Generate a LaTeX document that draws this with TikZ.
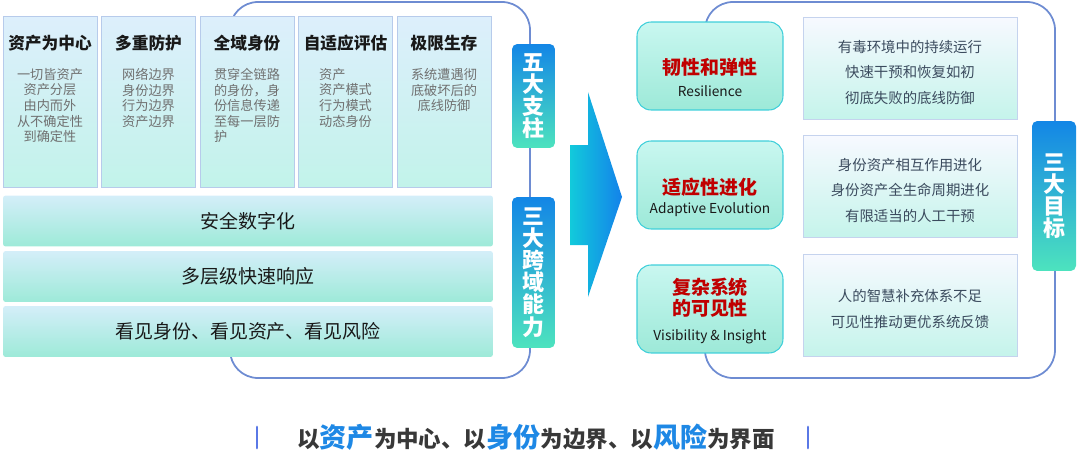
\documentclass[tikz,border=0pt]{standalone}
\usepackage{fontspec}
\setmainfont{Noto Sans CJK SC}
\usepackage{xcolor}
\usepackage{tikz}
\usetikzlibrary{positioning}

\definecolor{framecol}{HTML}{6E8CD2}
\definecolor{pillartop}{HTML}{DDEFFC}
\definecolor{pillarbot}{HTML}{C2F3EA}
\definecolor{pillarline}{HTML}{B7CBEB}
\definecolor{bodygray}{HTML}{707070}
\definecolor{bandtop}{HTML}{D4EEF9}
\definecolor{bandbot}{HTML}{9DEAD8}
\definecolor{labtop}{HTML}{1386E6}
\definecolor{labbot}{HTML}{4DE3BE}
\definecolor{arrleft}{HTML}{12CADB}
\definecolor{arrright}{HTML}{1382EA}
\definecolor{goaltop}{HTML}{C9F7F0}
\definecolor{goalbot}{HTML}{9DE9D8}
\definecolor{goalline}{HTML}{3FCFDA}
\definecolor{goalred}{HTML}{C00000}
\definecolor{desctop}{HTML}{F7F9FF}
\definecolor{descbot}{HTML}{C5F4EB}
\definecolor{descline}{HTML}{C5D3EE}
\definecolor{desctext}{HTML}{3B4B5E}
\definecolor{hiblue}{HTML}{1E88E5}
\definecolor{barblue}{HTML}{5A78E6}

\newcommand\hlword[1]{{\fontsize{15.4}{16}\selectfont\color{hiblue}#1}}

\tikzset{
  frame/.style={draw=framecol, line width=1pt, rounded corners=0.56cm}, % Rahmen
  pillar/.style={draw=pillarline, line width=.5pt, top color=pillartop, bottom color=pillarbot,
    minimum width=1.88cm, minimum height=3.42cm, inner sep=0pt},
  ptitle/.style={font=\fontsize{9.5}{11}\selectfont\bfseries, text=black!90},
  pbody/.style={font=\fontsize{7.5}{8.85}\selectfont, text=bodygray, inner sep=0pt, anchor=north},
  band/.style={top color=bandtop, bottom color=bandbot, rounded corners=1.5pt,
    minimum width=9.8cm, minimum height=1.02cm, font=\fontsize{10.8}{12}\selectfont, text=black!90},
  vlabel/.style={top color=labtop, bottom color=labbot, rounded corners=3pt, minimum width=0.86cm,
    align=center, text=white, font=\fontsize{12.5}{12.6}\selectfont\bfseries, inner sep=0pt},
  goal/.style={draw=goalline, line width=.6pt, top color=goaltop, bottom color=goalbot,
    rounded corners=0.28cm, minimum width=2.92cm, minimum height=1.76cm},
  gtitle/.style={font=\fontsize{10.8}{12}\selectfont\bfseries, text=goalred, align=center},
  gsub/.style={font=\fontsize{7.8}{9}\selectfont, text=black!90},
  desc/.style={draw=descline, line width=.5pt, top color=desctop, bottom color=descbot,
    minimum width=4.28cm, minimum height=2.04cm},
  dtext/.style={align=center, font=\fontsize{8.2}{14.5}\selectfont, text=desctext},
  bar/.style={draw=barblue, line width=1.7pt, line cap=round}
}

\begin{document}
\begin{tikzpicture}[x=0.02cm, y=-0.02cm, >=latex]
\useasboundingbox (0,0) rectangle (1080,470);

%Rahmen
\draw[frame] (230,40) -- (230,2) -- (530,2) -- (530,378) -- (230,378) -- (230,340);
\draw[frame] (705,40) -- (705,2) -- (1055,2) -- (1055,378) -- (705,378) -- (705,340);

%Pfeil
\shade[left color=arrleft, right color=arrright]
  (570,145) -- (588,145) -- (588,92) -- (622,197) -- (588,297) -- (588,245) -- (570,245) -- cycle;

%Saeulen
\node[pillar] (P1) at (50,101.5) {};
\node[pillar] (P2) at (148.5,101.5) {};
\node[pillar] (P3) at (247,101.5) {};
\node[pillar] (P4) at (345.5,101.5) {};
\node[pillar] (P5) at (444,101.5) {};

\node[ptitle] (T1) at (50,43) {资产为中心};
\node[ptitle] (T2) at (148.5,43) {多重防护};
\node[ptitle] (T3) at (247,43) {全域身份};
\node[ptitle] (T4) at (345.5,43) {自适应评估};
\node[ptitle] (T5) at (444,43) {极限生存};

\node[pbody, align=center] (B1) at (50,68) {一切皆资产\\资产分层\\由内而外\\从不确定性\\到确定性};
\node[pbody, align=center] (B2) at (148.5,68) {网络边界\\身份边界\\行为边界\\资产边界};
\node[pbody, align=left] (B3) at (247,68) {贯穿全链路\\的身份，身\\份信息传递\\至每一层防\\护};
\node[pbody, align=left] (B4) at (345.5,68) {资产\\资产模式\\行为模式\\动态身份};
\node[pbody, align=center] (B5) at (444,68) {系统遭遇彻\\底破坏后的\\底线防御};

%Querbalken
\node[band] (L1) at (248,221) {安全数字化};
\node[band] (L2) at (248,276.5) {多层级快速响应};
\node[band] (L3) at (248,331.5) {看见身份、看见资产、看见风险};

%Beschriftungen
\node[vlabel, minimum height=2.08cm] (V1) at (533.5,96) {五\\大\\支\\柱};
\node[vlabel, minimum height=3.02cm] (V2) at (533.5,272.5) {三\\大\\跨\\域\\能\\力};
\node[vlabel, minimum height=3.0cm, minimum width=0.88cm] (V3) at (1054,196) {三\\大\\目\\标};

%Ziele
\node[goal] (G1) at (710,66) {};
\node[goal] (G2) at (710,185) {};
\node[goal] (G3) at (710,309) {};

\node[gtitle] (G1t) at (710,67) {韧性和弹性};
\node[gsub] (G1s) at (710,91) {Resilience};
\node[gtitle] (G2t) at (710,187) {适应性进化};
\node[gsub] (G2s) at (710,210) {Adaptive Evolution};
\node[gtitle] (G3t) at (710,297.5) {复杂系统\\的可见性};
\node[gsub] (G3s) at (710,337) {Visibility \& Insight};

%Beschreibungen
\node[desc] (D1) at (910,68) {};
\node[desc] (D2) at (910,186.5) {};
\node[desc] (D3) at (910,305) {};

\node[dtext] (D1t) at (910,72.5) {有毒环境中的持续运行\\快速干预和恢复如初\\彻底失败的底线防御};
\node[dtext] (D2t) at (910,190.5) {身份资产相互作用进化\\身份资产全生命周期进化\\有限适当的人工干预};
\node[dtext] (D3t) at (910,309) {人的智慧补充体系不足\\可见性推动更优系统反馈};

%Leitsatz
\node[font=\fontsize{12.8}{14}\selectfont\bfseries, text=black!78] (S) at (536,437)
  {以\hlword{资产}为中心、以\hlword{身份}为边界、以\hlword{风险}为界面};
\draw[bar] (257,427) -- (257,448);
\draw[bar] (808,427) -- (808,448);

\end{tikzpicture}
\end{document}
